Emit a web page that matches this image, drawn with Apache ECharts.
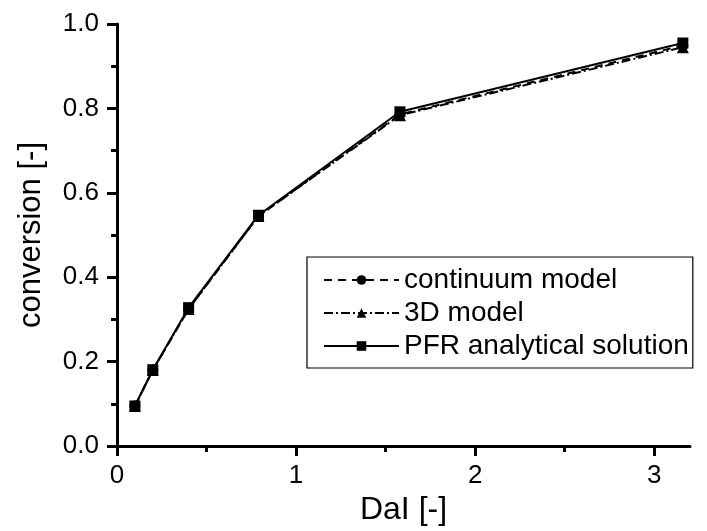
<!DOCTYPE html>
<html>
<head>
<meta charset="utf-8">
<script src="https://cdn.jsdelivr.net/npm/echarts@6/dist/echarts.min.js"></script>
<style>html,body{margin:0;padding:0;background:#fff}#c{width:707px;height:531px}</style>
</head>
<body>
<div id="c"></div>
<script>
var dalValues = [0.1, 0.2, 0.4, 0.79, 1.58, 3.16];
var continuumModel = [0.095, 0.18, 0.325, 0.545, 0.786, 0.949];
var model3D = [0.095, 0.18, 0.325, 0.545, 0.784, 0.945];
var pfrSolution = [0.095, 0.181, 0.328, 0.547, 0.792, 0.955];
var xMajorTicks = [0, 1, 2, 3];
var xMinorTicks = [0.5, 1.5, 2.5];

function pairs(xs, ys) { return xs.map(function (x, i) { return [x, ys[i]]; }); }

var font = 'Liberation Sans, Arial, sans-serif';
var chart = echarts.init(document.getElementById('c'));
chart.setOption({
  animation: false,
  backgroundColor: '#fff',
  grid: { left: 117, right: 17, top: 24, bottom: 82 },
  xAxis: [{
    type: 'value', min: 0, max: 3.2, interval: 1,
    name: 'DaI [-]', nameLocation: 'middle', nameGap: 46,
    nameTextStyle: { fontFamily: font, fontSize: 32, color: '#000' },
    axisLine: { show: true, lineStyle: { color: '#000', width: 3 } },
    axisTick: { show: true, length: 10, lineStyle: { color: '#000', width: 3 }, customValues: xMajorTicks },
    axisLabel: { fontFamily: font, fontSize: 26, color: '#000', margin: 17, customValues: xMajorTicks },
    splitLine: { show: false }
  }, {
    type: 'value', min: 0, max: 3.2, position: 'bottom',
    axisLine: { show: false },
    axisTick: { show: true, length: 6, lineStyle: { color: '#000', width: 3 }, customValues: xMinorTicks },
    axisLabel: { show: false },
    splitLine: { show: false }
  }],
  yAxis: {
    type: 'value', min: 0, max: 1, interval: 0.2,
    name: 'conversion [-]', nameLocation: 'middle', nameGap: 70,
    nameTextStyle: { fontFamily: font, fontSize: 31, color: '#000' },
    axisLine: { show: true, lineStyle: { color: '#000', width: 3 } },
    axisTick: { show: true, length: 10, lineStyle: { color: '#000', width: 3 } },
    minorTick: { show: true, splitNumber: 2, length: 6, lineStyle: { color: '#000', width: 3 } },
    axisLabel: { fontFamily: font, fontSize: 26, color: '#000', margin: 18,
      formatter: function (v) { return v.toFixed(1); } },
    splitLine: { show: false }
  },
  legend: {
    orient: 'vertical', left: 307, top: 257,
    padding: [9, 4, 8, 16],
    itemGap: 5, itemWidth: 75, itemHeight: 12,
    borderColor: '#000', borderWidth: 1.2, borderRadius: 0,
    textStyle: { fontFamily: font, fontSize: 28, color: '#000', lineHeight: 28 },
    data: ['continuum model', '3D model', 'PFR analytical solution']
  },
  series: [{
    name: 'continuum model', type: 'line', data: pairs(dalValues, continuumModel),
    symbol: 'circle', symbolSize: 11,
    lineStyle: { color: '#000', width: 2, type: [8, 6] },
    itemStyle: { color: '#000' }
  }, {
    name: '3D model', type: 'line', data: pairs(dalValues, model3D),
    symbol: 'triangle', symbolSize: 12,
    lineStyle: { color: '#000', width: 2, type: [9, 3, 2, 3] },
    itemStyle: { color: '#000' }
  }, {
    name: 'PFR analytical solution', type: 'line', data: pairs(dalValues, pfrSolution),
    symbol: 'rect', symbolSize: 11,
    lineStyle: { color: '#000', width: 2, type: 'solid' },
    itemStyle: { color: '#000' }
  }]
});
</script>
</body>
</html>
